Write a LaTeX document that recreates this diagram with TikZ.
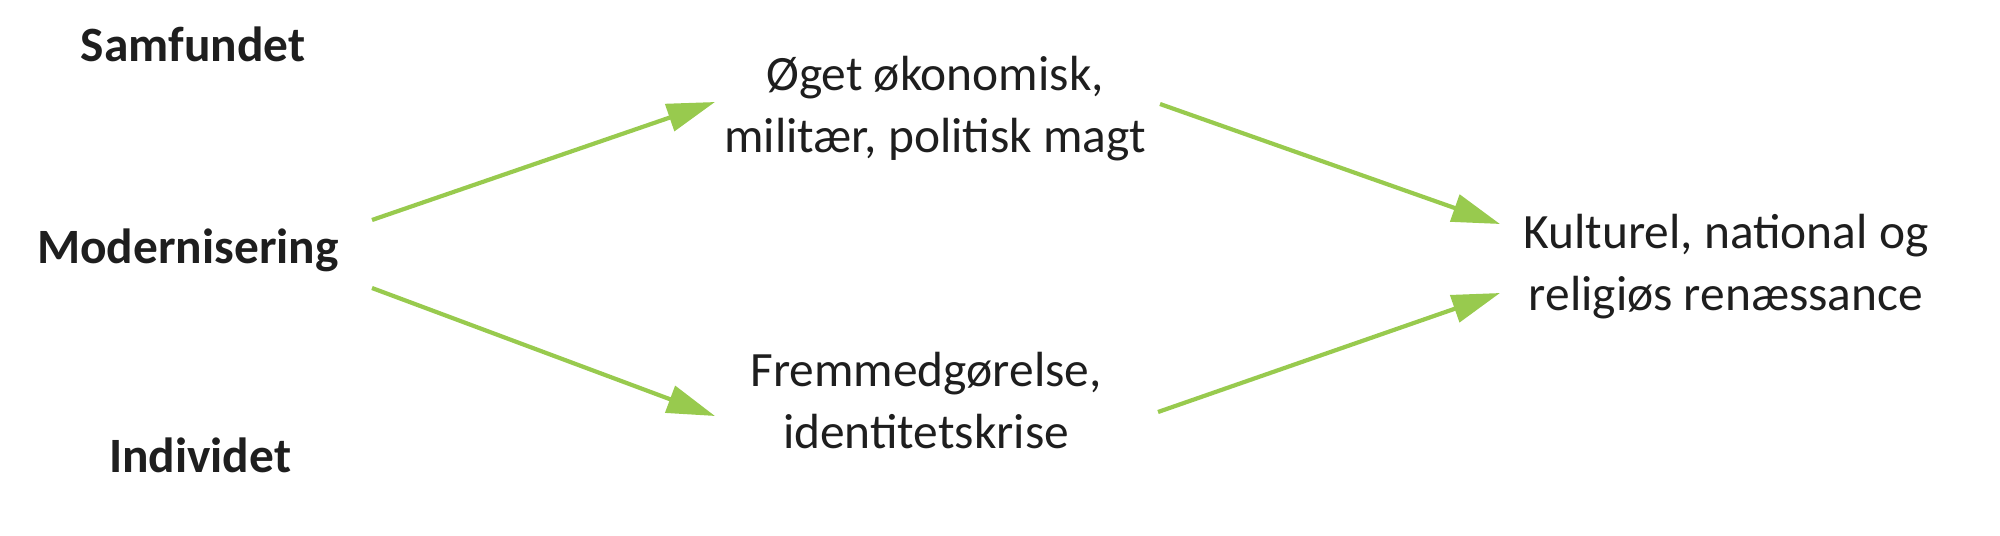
\documentclass[tikz,border=0pt]{standalone}
\usepackage{fontspec}
\setmainfont{Carlito}
\usetikzlibrary{arrows.meta}
\definecolor{pilgreen}{RGB}{152,202,78}
\definecolor{txt}{RGB}{30,30,30}
\begin{document}
\begin{tikzpicture}[
	x=0.5pt, y=-0.5pt,
	every node/.append style = {font=\fontsize{24.7}{31}\selectfont, text=txt, inner sep=0pt, anchor=base, align=center},
	heading/.style = {font=\fontsize{24.7}{31}\selectfont\bfseries},
	pil/.style = {draw=pilgreen, line width=2.1pt, -{Triangle[length=24pt,width=14pt]}}
]
\useasboundingbox (0,0) rectangle (2000,535);

\node[heading] (samf) at (193,62) {Samfundet};
\node[heading] (mod) at (188,263) {Modernisering};
\node[heading] (indiv) at (200,472) {Individet};

\node (oget) at (935,152) {Øget økonomisk,\\militær, politisk magt};
\node (frem) at (926,448) {Fremmedgørelse,\\identitetskrise};
\node (kult) at (1726,310) {Kulturel, national og\\religiøs renæssance};

\draw[pil] ([shift={(184,-43)}]mod.base) -- ([shift={(-220,-50)}]oget.base);
\draw[pil] ([shift={(184,25)}]mod.base) -- ([shift={(-211,-32)}]frem.base);
\draw[pil] ([shift={(225,-48)}]oget.base) -- ([shift={(-226,-86)}]kult.base);
\draw[pil] ([shift={(232,-36)}]frem.base) -- ([shift={(-226,-17)}]kult.base);

\end{tikzpicture}
\end{document}
